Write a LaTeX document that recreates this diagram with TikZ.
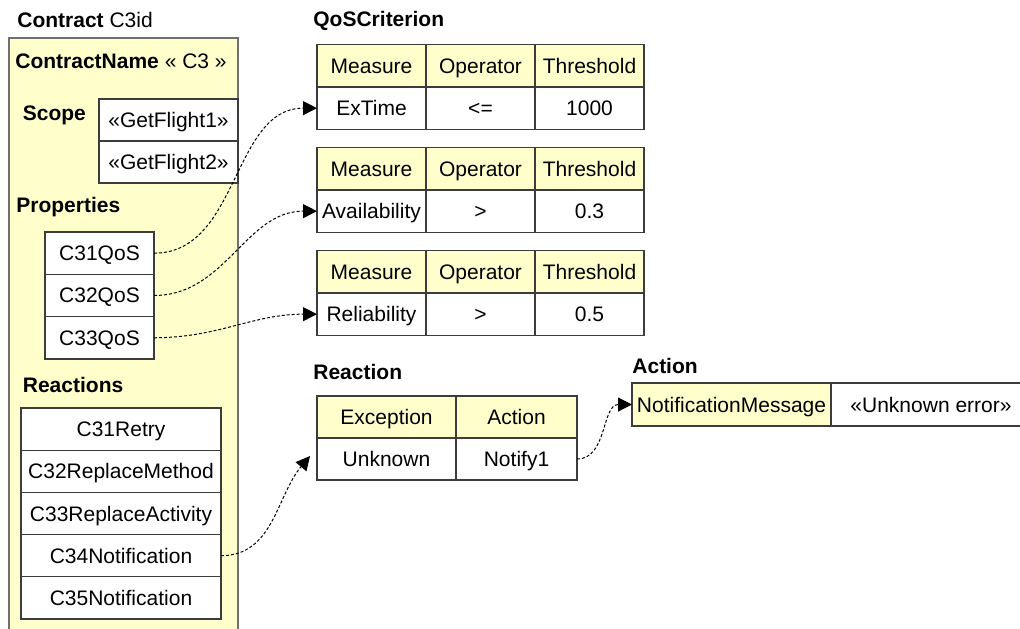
\documentclass[tikz,border=0pt]{standalone}
\usepackage{fontspec}
\setmainfont{Liberation Sans}
\usetikzlibrary{positioning,arrows.meta,calc}
\definecolor{paleyellow}{HTML}{FFFFCC}
\definecolor{gridline}{HTML}{3C3C3C}
\definecolor{frameline}{HTML}{707070}

\begin{document}
\begin{tikzpicture}[x=0.5pt,y=0.5pt,
    font=\fontsize{10.5}{12.6}\selectfont,
    cell/.style={draw=gridline, line width=0.6pt, fill=white, inner sep=0pt, outer sep=0pt,
      minimum height=21.15pt, text height=7.5pt, text depth=0pt},
    head/.style={cell, fill=paleyellow},
    qcol/.style={minimum width=54.5pt},
    title/.style={anchor=base west, inner sep=0pt, font=\fontsize{10.5}{12.6}\selectfont\bfseries},
    link/.style={dash pattern=on 1.5pt off 1pt, line width=0.5pt, -{Triangle[length=7pt,width=7pt]}}]
  \useasboundingbox (0,0) rectangle (1020,-628);

  % contract frame, runs off the bottom
  \draw[draw=frameline, fill=paleyellow, line width=0.6pt] (9,-38) rectangle (238,-700);

  \node[title] (contract) at (17,-27) {Contract {\mdseries C3id}};
  \node[title] (cname) at (15,-68) {ContractName {\mdseries « C3 »}};
  \node[title] (scope) at (22.5,-120) {Scope};
  \node[title] (props) at (16,-212) {Properties};
  \node[title] (reacts) at (22.5,-392) {Reactions};
  \node[title] (qos) at (313,-26) {QoSCriterion};
  \node[title] (reaction) at (313,-379) {Reaction};
  \node[title] (action) at (632,-373) {Action};

  % scope
  \node[cell, anchor=north west, minimum width=69.5pt, minimum height=21pt] (gf1) at (99,-99) {«GetFlight1»};
  \node[cell, below=0pt of gf1, minimum width=69.5pt, minimum height=21pt] (gf2) {«GetFlight2»};

  % properties
  \node[cell, anchor=north west, minimum width=54.5pt] (qos31) at (45,-232) {C31QoS};
  \node[cell, below=0pt of qos31, minimum width=54.5pt] (qos32) {C32QoS};
  \node[cell, below=0pt of qos32, minimum width=54.5pt] (qos33) {C33QoS};

  % reactions
  \node[cell, anchor=north west, minimum width=100pt, minimum height=21.1pt] (retry31) at (21,-408) {C31Retry};
  \node[cell, below=0pt of retry31, minimum width=100pt, minimum height=21.1pt] (method32) {C32ReplaceMethod};
  \node[cell, below=0pt of method32, minimum width=100pt, minimum height=21.1pt] (activity33) {C33ReplaceActivity};
  \node[cell, below=0pt of activity33, minimum width=100pt, minimum height=21.1pt] (notif34) {C34Notification};
  \node[cell, below=0pt of notif34, minimum width=100pt, minimum height=21.1pt] (notif35) {C35Notification};

  % QoS criteria
  \node[head, qcol, anchor=north west] (meas1) at (317,-44.7) {Measure};
  \node[head, qcol, right=0pt of meas1] (op1) {Operator};
  \node[head, qcol, right=0pt of op1] (thr1) {Threshold};
  \node[cell, qcol, below=0pt of meas1] (ex) {ExTime};
  \node[cell, qcol, below=0pt of op1] (le) {<=};
  \node[cell, qcol, below=0pt of thr1] (val1) {1000};

  \node[head, qcol, below=9.2pt of ex] (meas2) {Measure};
  \node[head, qcol, right=0pt of meas2] (op2) {Operator};
  \node[head, qcol, right=0pt of op2] (thr2) {Threshold};
  \node[cell, qcol, below=0pt of meas2] (avail) {Availability};
  \node[cell, qcol, below=0pt of op2] (gt2) {>};
  \node[cell, qcol, below=0pt of thr2] (val2) {0.3};

  \node[head, qcol, below=9.2pt of avail] (meas3) {Measure};
  \node[head, qcol, right=0pt of meas3] (op3) {Operator};
  \node[head, qcol, right=0pt of op3] (thr3) {Threshold};
  \node[cell, qcol, below=0pt of meas3] (relia) {Reliability};
  \node[cell, qcol, below=0pt of op3] (gt3) {>};
  \node[cell, qcol, below=0pt of thr3] (val3) {0.5};

  % reaction
  \node[head, anchor=north west, minimum width=69.5pt, minimum height=21pt] (exc) at (317,-396) {Exception};
  \node[head, right=0pt of exc, minimum width=60.5pt, minimum height=21pt] (act) {Action};
  \node[cell, below=0pt of exc, minimum width=69.5pt, minimum height=21pt] (unk) {Unknown};
  \node[cell, below=0pt of act, minimum width=60.5pt, minimum height=21pt] (notify) {Notify1};

  % action
  \node[head, anchor=north west, minimum width=99.5pt, minimum height=21.5pt] (nmsg) at (632,-383) {NotificationMessage};
  \node[cell, right=0pt of nmsg, minimum width=100pt, minimum height=21.5pt] (uerr) {«Unknown error»};

  \draw[link] (qos31.east) to[out=0, in=180] (ex.west);
  \draw[link] (qos32.east) to[out=0, in=180] (avail.west);
  \draw[link] (qos33.east) to[out=0, in=180] (relia.west);
  \coordinate (rtip) at ($(unk.west)+(-7,3)$);
  \draw[link] (notif34.east) to[out=0, in=230] (rtip);
  \draw[link] (notify.east) to[out=0, in=180] (nmsg.west);
\end{tikzpicture}
\end{document}
